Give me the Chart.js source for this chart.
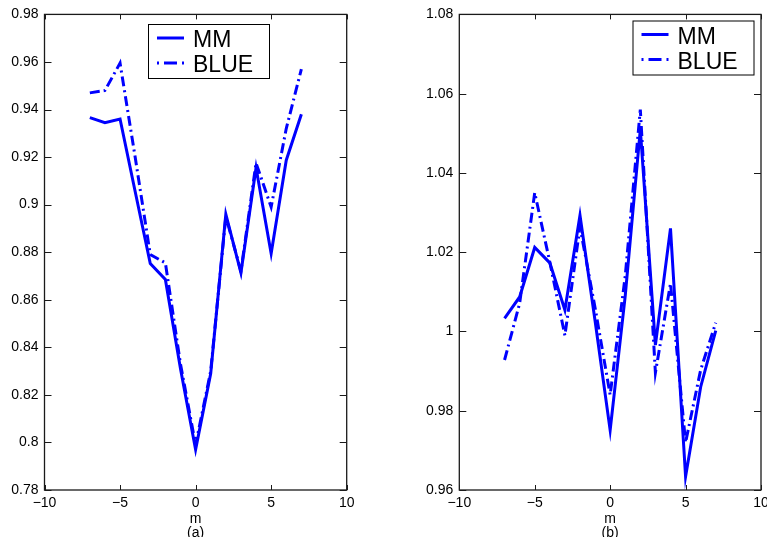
<!DOCTYPE html>
<html>
<head>
<meta charset="utf-8">
<script src="https://cdn.jsdelivr.net/npm/chart.js@4.4.1/dist/chart.umd.min.js"></script>
<style>
  html, body { margin: 0; padding: 0; background: #fff; }
  #wrap { position: relative; width: 767px; height: 537px; overflow: hidden; background: #fff; }
  .panel { position: absolute; top: 0; }
</style>
</head>
<body>
<div id="wrap">
  <div class="panel" style="left:0"><canvas id="chartA" width="383" height="537"></canvas></div>
  <div class="panel" style="left:383px"><canvas id="chartB" width="430" height="537"></canvas></div>
</div>
<script>
// m values (shared by both panels)
const mVals = [-7, -6, -5, -4, -3, -2, -1, 0, 1, 2, 3, 4, 5, 6, 7];

// panel (a)
const mmA   = [0.9366, 0.9345, 0.9360, 0.9055, 0.8752, 0.8685, 0.8310, 0.7970, 0.8290, 0.8960, 0.8713, 0.9155, 0.8795, 0.9187, 0.9380];
const blueA = [0.9470, 0.9480, 0.9595, 0.9200, 0.8790, 0.8755, 0.8330, 0.7990, 0.8300, 0.8950, 0.8720, 0.9175, 0.8990, 0.9320, 0.9570];

// panel (b)
const mmB   = [1.0033, 1.0087, 1.0212, 1.0173, 1.0054, 1.0293, 1.0027, 0.9751, 1.0090, 1.0510, 0.9966, 1.0260, 0.9634, 0.9860, 1.0002];
const blueB = [0.9928, 1.0071, 1.0350, 1.0175, 0.9990, 1.0264, 1.0060, 0.9840, 1.0140, 1.0560, 0.9896, 1.0121, 0.9720, 0.9903, 1.0022];

const seriesNames = ['MM', 'BLUE'];
const xTickLabels = { '-10': '\u221210', '-5': '\u22125', '0': '0', '5': '5', '10': '10' };

Chart.defaults.font.family = '"Liberation Sans", Arial, Helvetica, sans-serif';
Chart.defaults.font.size = 14;
Chart.defaults.color = '#000';

const pts = ys => mVals.map((m, i) => ({ x: m, y: ys[i] }));

// box, inward ticks, legend and axis label, drawn matlab style
const matlabBox = {
  id: 'matlabBox',
  afterDraw(chart, args, o) {
    const { ctx, chartArea: a, scales: { x, y } } = chart;
    ctx.save();
    ctx.strokeStyle = '#1a1a1a';
    ctx.lineWidth = 1.3;
    ctx.strokeRect(a.left, a.top, a.right - a.left, a.bottom - a.top);

    ctx.beginPath();
    x.ticks.forEach(t => {
      const px = Math.round(x.getPixelForValue(t.value)) + 0.5;
      ctx.moveTo(px, a.bottom); ctx.lineTo(px, a.bottom - 5);
      ctx.moveTo(px, a.top); ctx.lineTo(px, a.top + 5);
    });
    y.ticks.forEach(t => {
      const py = Math.round(y.getPixelForValue(t.value)) + 0.5;
      ctx.moveTo(a.left, py); ctx.lineTo(a.left + 7, py);
      ctx.moveTo(a.right, py); ctx.lineTo(a.right - 7, py);
    });
    ctx.lineWidth = 1;
    ctx.stroke();

    // legend
    const L = o.legend;
    ctx.fillStyle = '#fff';
    ctx.fillRect(L.x, L.y, L.w, L.h);
    ctx.strokeStyle = '#000';
    ctx.lineWidth = 1;
    ctx.strokeRect(L.x + 0.5, L.y + 0.5, L.w, L.h);
    ctx.font = '23px "Liberation Sans", Arial, sans-serif';
    ctx.textAlign = 'left';
    ctx.textBaseline = 'alphabetic';
    chart.data.datasets.forEach((ds, i) => {
      const ly = L.y + 14 + i * 25;
      ctx.beginPath();
      ctx.strokeStyle = ds.borderColor;
      ctx.lineWidth = ds.borderWidth;
      ctx.setLineDash(ds.borderDash ? [2, 5, 13, 5] : []);
      ctx.moveTo(L.x + 9, ly);
      ctx.lineTo(L.x + 36, ly);
      ctx.stroke();
      ctx.setLineDash([]);
      ctx.fillStyle = '#000';
      ctx.fillText(ds.label, L.x + 45, ly + 9);
    });

    // x label and panel tag
    const cx = (a.left + a.right) / 2;
    ctx.font = '14px "Liberation Sans", Arial, sans-serif';
    ctx.textAlign = 'center';
    ctx.fillStyle = '#000';
    ctx.fillText('m', cx, 523);
    ctx.fillText(o.tag, cx, 537);
    ctx.restore();
  }
};

function makePanel(id, mm, blue, yMin, yMax, leftW, padRight, legend, tag) {
  new Chart(document.getElementById(id), {
    type: 'line',
    data: {
      datasets: [
        { label: seriesNames[0], data: pts(mm), borderColor: '#0000ff', borderWidth: 3,
          pointRadius: 0, tension: 0, fill: false },
        { label: seriesNames[1], data: pts(blue), borderColor: '#0000ff', borderWidth: 3,
          borderDash: [10, 4, 2, 4], pointRadius: 0, tension: 0, fill: false }
      ]
    },
    options: {
      responsive: false,
      animation: false,
      layout: { padding: { left: 0, top: 14, right: padRight, bottom: 0 } },
      plugins: {
        legend: { display: false },
        tooltip: { enabled: false },
        matlabBox: { legend, tag }
      },
      scales: {
        x: {
          type: 'linear', min: -10, max: 10,
          grid: { display: false, drawTicks: false },
          border: { display: false },
          ticks: { stepSize: 5, padding: 5, maxRotation: 0,
                   callback: v => xTickLabels[String(v)] ?? String(v) },
          afterFit: s => { s.height = 47; }
        },
        y: {
          type: 'linear', min: yMin, max: yMax,
          grid: { display: false, drawTicks: false },
          border: { display: false },
          ticks: { stepSize: 0.02, padding: 6,
                   callback: v => String(+(+v).toFixed(2)) },
          afterFit: s => { s.width = leftW; }
        }
      }
    },
    plugins: [matlabBox]
  });
}

makePanel('chartA', mmA, blueA, 0.78, 0.98, 44.5, 36.3,
  { x: 148, y: 24, w: 121, h: 54 }, '(a)');
makePanel('chartB', mmB, blueB, 0.96, 1.08, 76.3, 52,
  { x: 249.5, y: 20.5, w: 121, h: 54 }, '(b)');
</script>
</body>
</html>
